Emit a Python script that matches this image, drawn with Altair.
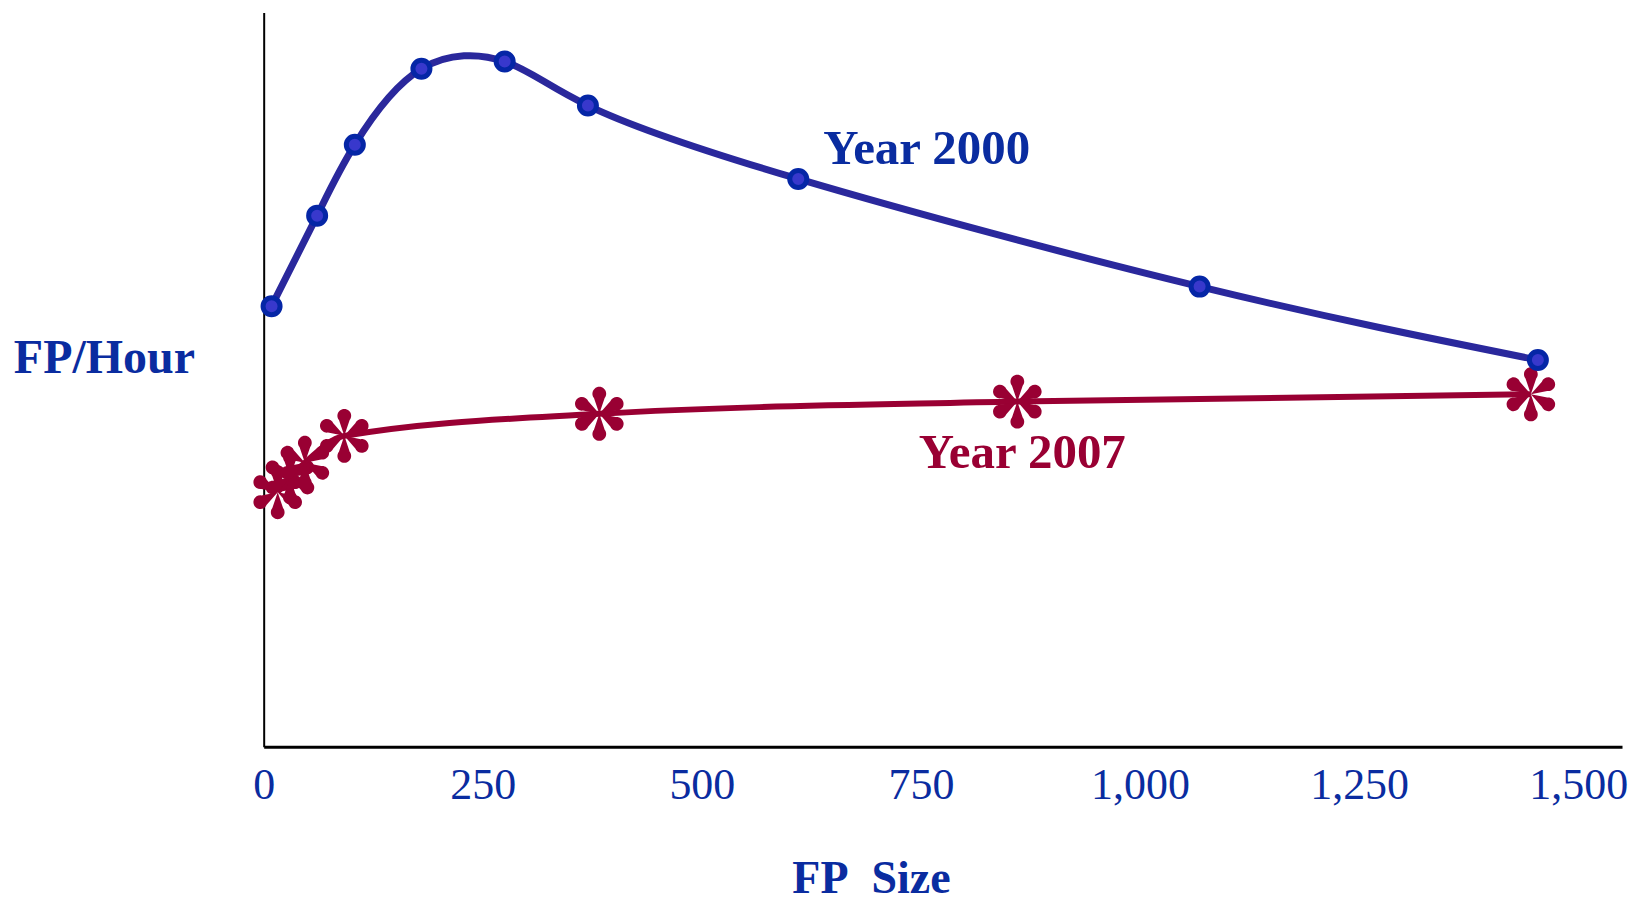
import altair as alt
import pandas as pd
import numpy as np

# ---- data ----
x_2000 = [9, 61, 104, 180, 275, 370, 610, 1068, 1454]
y_2000 = [18.0, 21.7, 24.6, 27.7, 28.0, 26.2, 23.2, 18.8, 15.8]

x_2007 = [16, 30, 47, 92, 383, 860, 1446]
y_2007 = [10.4, 11.0, 11.6, 12.7, 13.6, 14.1, 14.4]

x_ticks = [0, 250, 500, 750, 1000, 1250, 1500]

BLUE = "#0a2ca0"
LINE_BLUE = "#2a289c"
RED = "#990033"
FONT = "Liberation Serif"

df2000 = pd.DataFrame({"x": x_2000, "y": y_2000, "series": "Year 2000"})
df2007 = pd.DataFrame({"x": x_2007, "y": y_2007, "series": "Year 2007"})
lab2000 = pd.DataFrame({"x": [x_2000[6]], "y": [y_2000[6]], "t": ["Year 2000"]})
lab2007 = pd.DataFrame({"x": [x_2007[5]], "y": [y_2007[5]], "t": ["Year 2007"]})

# teardrop-spoked asterisk shape (unit square)
parts = []
for k in range(6):
    a = np.deg2rad(60 * k)
    c, s = np.cos(a), np.sin(a)
    def rot(px, py):
        return (px * c - py * s, px * s + py * c)
    p1 = rot(-0.21, -0.62)
    p2 = rot(0.21, -0.62)
    parts.append(
        f"M0,0 L{p1[0]:.3f},{p1[1]:.3f} A0.27,0.27 0 1,1 {p2[0]:.3f},{p2[1]:.3f} Z"
    )
STAR = " ".join(parts)

xs = alt.Scale(domain=[0, 1550], nice=False)
ys = alt.Scale(domain=[0, 30], nice=False, zero=True)

xax = alt.Axis(
    values=x_ticks, format=",d", ticks=False, grid=False,
    domainColor="black", domainWidth=3,
    labelFont=FONT, labelFontSize=44, labelColor=BLUE, labelPadding=17,
    labelFlush=False, labelBound=False, labelOverlap=False,
    title="FP\u00a0 Size", titleFont=FONT, titleFontSize=46, titleFontWeight="bold",
    titleColor=BLUE, titleX=608, titleY=146, titleBaseline="alphabetic",
    titleAlign="center",
)
yax = alt.Axis(
    labels=False, ticks=False, grid=False,
    domainColor="black", domainWidth=2,
    title="FP/Hour", titleAngle=0, titleFont=FONT, titleFontSize=48,
    titleFontWeight="bold", titleColor=BLUE, titleX=-160, titleY=346,
    titleAlign="center", titleBaseline="middle",
)

base_x = alt.X("x:Q", scale=xs, axis=xax)
base_y = alt.Y("y:Q", scale=ys, axis=yax)

line2000 = alt.Chart(df2000).mark_line(
    color=LINE_BLUE, strokeWidth=7, interpolate="natural"
).encode(x=base_x, y=base_y)

pts2000 = alt.Chart(df2000).mark_point(
    shape="circle", filled=True, fill="#3838cc", stroke="#0526a6",
    strokeWidth=5, size=290, opacity=1
).encode(x="x:Q", y="y:Q")

line2007 = alt.Chart(df2007).mark_line(
    color=RED, strokeWidth=6, interpolate="monotone"
).encode(x="x:Q", y="y:Q")

pts2007 = alt.Chart(df2007).mark_point(
    shape=STAR, filled=True, color=RED, size=2600, opacity=1, strokeWidth=0
).encode(x="x:Q", y="y:Q")

t2000 = alt.Chart(lab2000).mark_text(
    font=FONT, fontSize=49, fontWeight="bold", color=BLUE,
    align="left", baseline="alphabetic", dx=25, dy=-15
).encode(x="x:Q", y="y:Q", text="t:N")

t2007 = alt.Chart(lab2007).mark_text(
    font=FONT, fontSize=49, fontWeight="bold", color=RED,
    align="center", baseline="alphabetic", dx=5, dy=66
).encode(x="x:Q", y="y:Q", text="t:N")

chart = alt.layer(line2000, line2007, pts2007, pts2000, t2000, t2007).properties(
    width=1360, height=735,
    autosize=alt.AutoSizeParams(type="none"),
    padding={"left": 256, "top": 4, "right": 8, "bottom": 155},
    background="white",
).configure_view(stroke=None)

chart.save("out.html", embed_options={"renderer": "svg", "actions": False})
